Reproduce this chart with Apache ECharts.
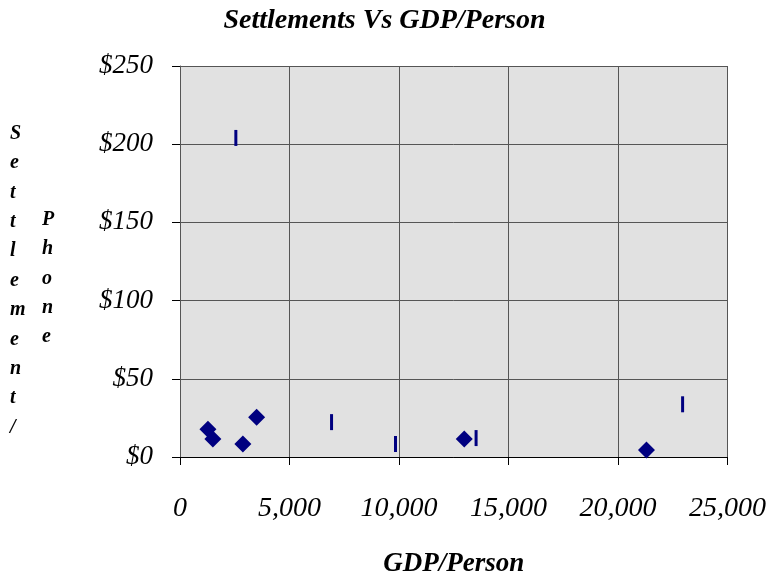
<!DOCTYPE html>
<html><head><meta charset="utf-8">
<script src="https://cdn.jsdelivr.net/npm/echarts@6/dist/echarts.min.js"></script>
<style>html,body{margin:0;padding:0;background:#fff}#c{width:769px;height:583px}</style>
</head><body><div id="c"></div>
<script>
// Data
var diamondX = [1275, 1500, 2870, 3500, 12980, 21300];
var diamondY = [17.8, 11.5, 8.3, 25.4, 11.5, 4.5];
var barX = [2550, 6920, 9840, 13520, 22950];
var barY = [204, 22.3, 8.3, 12.1, 33.7];
var xTicks = [0, 5000, 10000, 15000, 20000, 25000];
var yTicks = [0, 50, 100, 150, 200, 250];
var yTitleCol1 = 'Settlement/';
var yTitleCol2 = 'Phone';

var FONT = '"Liberation Serif","Times New Roman",serif';
function pairs(xs, ys){ return xs.map(function(x,i){ return [x, ys[i]]; }); }
function fmtNum(v){ return String(v).replace(/\B(?=(\d{3})+(?!\d))/g, ','); }

var chart = echarts.init(document.getElementById('c'), null, {renderer:'canvas'});
chart.setOption({
  backgroundColor:'#ffffff',
  animation:false,
  title:{
    text:'Settlements Vs GDP/Person', left:'center', top:7, padding:0,
    textStyle:{fontFamily:FONT, fontSize:28, fontWeight:'bold', fontStyle:'italic', color:'#000'}
  },
  grid:{left:180, right:40, top:66, bottom:123, show:true, backgroundColor:'#e1e1e1', borderWidth:0},
  xAxis:{
    type:'value', min:xTicks[0], max:xTicks[xTicks.length-1], interval:5000,
    name:'GDP/Person', nameLocation:'middle', nameGap:94,
    nameTextStyle:{fontFamily:FONT, fontSize:27, fontWeight:'bold', fontStyle:'italic', color:'#000'},
    axisLine:{show:true, lineStyle:{color:'#000', width:1}},
    axisTick:{show:true, inside:false, length:8, lineStyle:{color:'#000'}},
    axisLabel:{margin:38, fontFamily:FONT, fontSize:28, fontStyle:'italic', color:'#000',
      formatter:function(v){ return fmtNum(v); }},
    splitLine:{show:true, lineStyle:{color:'#555', width:1}}
  },
  yAxis:{
    type:'value', min:yTicks[0], max:yTicks[yTicks.length-1], interval:50,
    axisLine:{show:true, lineStyle:{color:'#555', width:1}},
    axisTick:{show:true, inside:false, length:8, lineStyle:{color:'#000'}},
    axisLabel:{margin:27, padding:[10,0,0,0], fontFamily:FONT, fontSize:27, fontStyle:'italic', color:'#000',
      formatter:function(v){ return '$' + v; }},
    splitLine:{show:true, lineStyle:{color:'#555', width:1}}
  },
  graphic:[
    {type:'text', left:10, top:119, style:{text:yTitleCol1.split('').join('\n'), font:'italic bold 20px ' + FONT, lineHeight:29.4, fill:'#000', align:'center'}},
    {type:'text', left:42, top:205, style:{text:yTitleCol2.split('').join('\n'), font:'italic bold 20px ' + FONT, lineHeight:29.4, fill:'#000', align:'center'}}
  ],
  series:[
    {type:'scatter', name:'A', data:pairs(diamondX, diamondY), symbol:'diamond', symbolSize:[17,17],
      itemStyle:{color:'#000080', opacity:1}},
    {type:'scatter', name:'B', data:pairs(barX, barY), symbol:'rect', symbolSize:[3,16],
      itemStyle:{color:'#000080', opacity:1}}
  ]
});
</script></body></html>
